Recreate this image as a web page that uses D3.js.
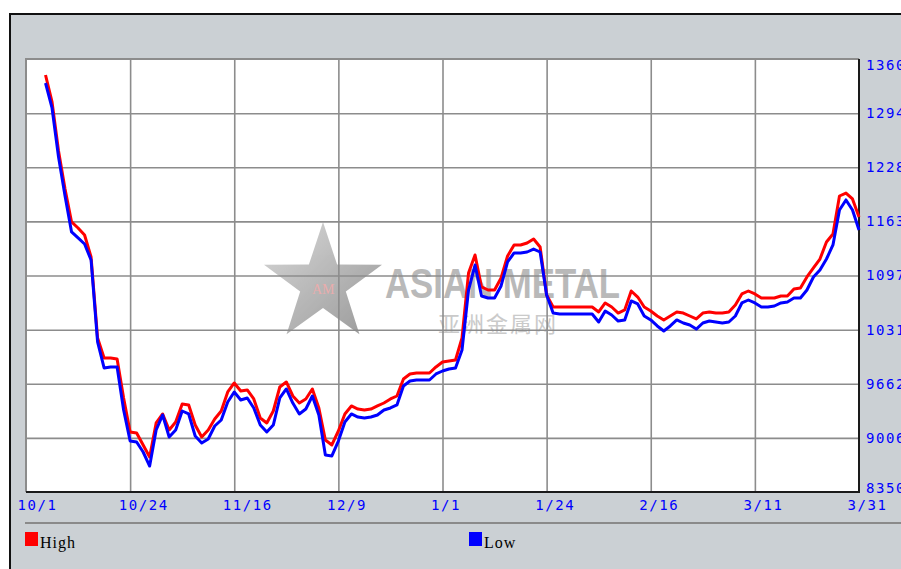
<!DOCTYPE html>
<html>
<head>
<meta charset="utf-8">
<script src="https://cdnjs.cloudflare.com/ajax/libs/d3/7.8.5/d3.min.js"></script>
<style>
    body { margin: 0; background: #ffffff; overflow: hidden; }
</style>
</head>
<body>
<div id="chart"></div>
<script>
// date labels under the grid, one every 16 slots
var dateLabels = ["10/1", "10/24", "11/16", "12/9", "1/1", "1/24", "2/16", "3/11", "3/31"];

// price ticks on the right side
var priceTicks = [8350, 9006, 9662, 10318, 10975, 11631, 12287, 12943, 13600];

// first slot with a price (no quotes over the holiday)
var firstSlot = 3;

var highPrices = [
    13406, 13079, 12485, 12024, 11624, 11551, 11466, 11199, 10217, 9975,
    9975, 9963, 9490, 9078, 9065, 8920, 8774, 9187, 9296, 9102,
    9199, 9417, 9405, 9162, 9017, 9102, 9235, 9332, 9563, 9672,
    9575, 9587, 9478, 9247, 9187, 9332, 9623, 9684, 9514, 9429,
    9478, 9599, 9369, 8981, 8920, 9090, 9296, 9393, 9356, 9344,
    9356, 9393, 9429, 9478, 9514, 9720, 9781, 9793, 9793, 9793,
    9866, 9926, 9938, 9951, 10217, 11005, 11224, 10836, 10799, 10799,
    10945, 11212, 11345, 11345, 11369, 11418, 11321, 10739, 10593, 10593,
    10593, 10593, 10593, 10593, 10593, 10533, 10642, 10593, 10520, 10557,
    10787, 10714, 10593, 10545, 10484, 10436, 10484, 10533, 10520, 10484,
    10448, 10520, 10533, 10520, 10520, 10533, 10617, 10751, 10787, 10751,
    10702, 10702, 10702, 10727, 10727, 10811, 10824, 10957, 11066, 11175,
    11381, 11478, 11939, 11975, 11903, 11684
];

var lowPrices = [
    13309, 13006, 12412, 11939, 11503, 11430, 11357, 11163, 10169, 9854,
    9866, 9866, 9344, 8968, 8956, 8835, 8665, 9102, 9284, 9017,
    9102, 9332, 9296, 9029, 8944, 8993, 9150, 9223, 9441, 9563,
    9466, 9490, 9369, 9162, 9078, 9162, 9490, 9599, 9429, 9296,
    9356, 9514, 9284, 8799, 8787, 8968, 9199, 9296, 9259, 9247,
    9259, 9284, 9344, 9369, 9405, 9635, 9696, 9708, 9708, 9708,
    9781, 9817, 9841, 9854, 10072, 10799, 11102, 10727, 10702, 10702,
    10848, 11139, 11248, 11248, 11260, 11296, 11260, 10739, 10520, 10508,
    10508, 10508, 10508, 10508, 10508, 10411, 10545, 10496, 10423, 10436,
    10666, 10630, 10484, 10436, 10363, 10302, 10363, 10436, 10399, 10375,
    10326, 10399, 10423, 10411, 10399, 10411, 10484, 10642, 10678, 10642,
    10593, 10593, 10605, 10642, 10654, 10702, 10702, 10799, 10957, 11042,
    11175, 11345, 11769, 11891, 11769, 11527
];

// SVG size and plot box
var svgWidth = 901;
var svgHeight = 569;
var plot = { left: 26, top: 59, right: 859, bottom: 492 };
var slotsPerLabel = 16;
var lastSlot = slotsPerLabel * (dateLabels.length - 1);

var svg = d3.select("#chart")
    .append("svg")
    .attr("width", svgWidth)
    .attr("height", svgHeight);

// gray panel with dark frame
svg.append("rect")
    .attr("x", 10)
    .attr("y", 14)
    .attr("width", 900)
    .attr("height", 570)
    .attr("fill", "#cbd0d4")
    .attr("stroke", "#111")
    .attr("stroke-width", 2);

var x = d3.scaleLinear().domain([0, lastSlot]).range([plot.left, plot.right]);
var y = d3.scaleLinear().domain([priceTicks[0], priceTicks[priceTicks.length - 1]]).range([plot.bottom, plot.top]);

var labelSlots = dateLabels.map(function (d, i) { return i * slotsPerLabel; });

// white plot area
svg.append("rect")
    .attr("x", plot.left)
    .attr("y", plot.top)
    .attr("width", plot.right - plot.left)
    .attr("height", plot.bottom - plot.top)
    .attr("fill", "#ffffff");

// watermark (star + text)
var mark = svg.append("g").attr("opacity", 0.7);
var starPts = [];
for (var k = 0; k < 10; k++) {
    var r = k % 2 === 0 ? 62 : 24;
    var a = -Math.PI / 2 + k * Math.PI / 5;
    starPts.push([323 + r * Math.cos(a), 284 + r * Math.sin(a)]);
}
var grad = svg.append("defs").append("linearGradient")
    .attr("id", "starFill")
    .attr("x1", "0").attr("y1", "0").attr("x2", "1").attr("y2", "1");
grad.append("stop").attr("offset", "0%").attr("stop-color", "#c8c8c8");
grad.append("stop").attr("offset", "100%").attr("stop-color", "#6e6e6e");
mark.append("polygon")
    .attr("points", starPts.map(function (p) { return p.join(","); }).join(" "))
    .attr("fill", "url(#starFill)");
mark.append("text")
    .attr("x", 312).attr("y", 294)
    .attr("font-family", "Liberation Serif")
    .attr("font-size", 14)
    .attr("fill", "#e08a8a")
    .text("AM");
mark.append("text")
    .attr("x", 385).attr("y", 298)
    .attr("font-family", "Liberation Sans")
    .attr("font-weight", "bold")
    .attr("font-size", 42)
    .attr("textLength", 235)
    .attr("lengthAdjust", "spacingAndGlyphs")
    .attr("fill", "#9c9c9c")
    .text("ASIAN METAL");
mark.append("text")
    .attr("x", 438).attr("y", 332)
    .attr("font-family", "Noto Sans CJK SC")
    .attr("font-size", 22)
    .attr("textLength", 118)
    .attr("fill", "#b4b4b4")
    .text("亚洲金属网");

// grid lines
var gridV = svg.append("g")
    .attr("transform", `translate(0, ${plot.bottom})`)
    .call(d3.axisBottom(x)
        .tickValues(labelSlots.slice(1, -1))
        .tickSize(-(plot.bottom - plot.top))
        .tickFormat(""));
var gridH = svg.append("g")
    .attr("transform", `translate(${plot.left}, 0)`)
    .call(d3.axisLeft(y)
        .tickValues(priceTicks.slice(1, -1))
        .tickSize(-(plot.right - plot.left))
        .tickFormat(""));
[gridV, gridH].forEach(function (g) {
    g.select(".domain").remove();
    g.selectAll("line").attr("stroke", "#8c8c8c").attr("stroke-width", 1.6);
});

// plot border: light on top/left, dark on right/bottom
svg.append("path")
    .attr("d", `M${plot.left},${plot.bottom} V${plot.top} H${plot.right}`)
    .attr("fill", "none").attr("stroke", "#8c8c8c").attr("stroke-width", 2);
svg.append("path")
    .attr("d", `M${plot.left},${plot.bottom} H${plot.right} V${plot.top}`)
    .attr("fill", "none").attr("stroke", "#1a1a1a").attr("stroke-width", 2);

// price lines
var priceLine = d3.line()
    .x(function (d, i) { return x(firstSlot + i); })
    .y(function (d) { return y(d); });

svg.append("path")
    .datum(highPrices)
    .attr("d", priceLine)
    .attr("fill", "none")
    .attr("stroke", "#ff0000")
    .attr("stroke-width", 3)
    .attr("stroke-linejoin", "round");

svg.append("path")
    .datum(lowPrices)
    .attr("d", priceLine)
    .attr("fill", "none")
    .attr("stroke", "#0000ff")
    .attr("stroke-width", 3)
    .attr("stroke-linejoin", "round");

// right axis labels
var yAxis = svg.append("g")
    .attr("transform", `translate(${plot.right}, 0)`)
    .call(d3.axisRight(y).tickValues(priceTicks).tickSize(0).tickFormat(d3.format("d")));
yAxis.select(".domain").remove();
yAxis.selectAll("text")
    .attr("x", 7)
    .attr("y", function (d) {
        if (d === priceTicks[priceTicks.length - 1]) return 6;
        if (d === priceTicks[0]) return -4;
        return 0;
    })
    .attr("font-family", "DejaVu Sans Mono")
    .attr("font-size", 14)
    .attr("letter-spacing", 1.6)
    .attr("fill", "#0000ff");

// bottom date labels
var xAxis = svg.append("g")
    .attr("transform", `translate(0, ${plot.bottom})`)
    .call(d3.axisBottom(x).tickValues(labelSlots).tickSize(0)
        .tickFormat(function (d, i) { return dateLabels[i]; }));
xAxis.select(".domain").remove();
xAxis.selectAll("text")
    .attr("text-anchor", "start")
    .attr("x", function (d) { return d === 0 ? -9 : -12; })
    .attr("y", 18)
    .attr("dy", null)
    .attr("font-family", "DejaVu Sans Mono")
    .attr("font-size", 14)
    .attr("letter-spacing", 1.6)
    .attr("fill", "#0000ff");

// separator above legend
svg.append("line")
    .attr("x1", 25).attr("x2", svgWidth)
    .attr("y1", 523).attr("y2", 523)
    .attr("stroke", "#8a8a8a")
    .attr("stroke-width", 2);

// legend
var legendItems = [
    { name: "High", color: "#ff0000", x: 25 },
    { name: "Low", color: "#0000ff", x: 469 }
];
var legend = svg.selectAll(".legend")
    .data(legendItems)
    .enter().append("g")
    .attr("class", "legend")
    .attr("transform", function (d) { return `translate(${d.x}, 532)`; });
legend.append("rect")
    .attr("width", 13)
    .attr("height", 14)
    .attr("fill", function (d) { return d.color; });
legend.append("text")
    .attr("x", 15)
    .attr("y", 16)
    .attr("font-family", "Liberation Serif")
    .attr("font-size", 16)
    .attr("letter-spacing", 1)
    .attr("fill", "#000")
    .text(function (d) { return d.name; });
</script>
</body>
</html>
